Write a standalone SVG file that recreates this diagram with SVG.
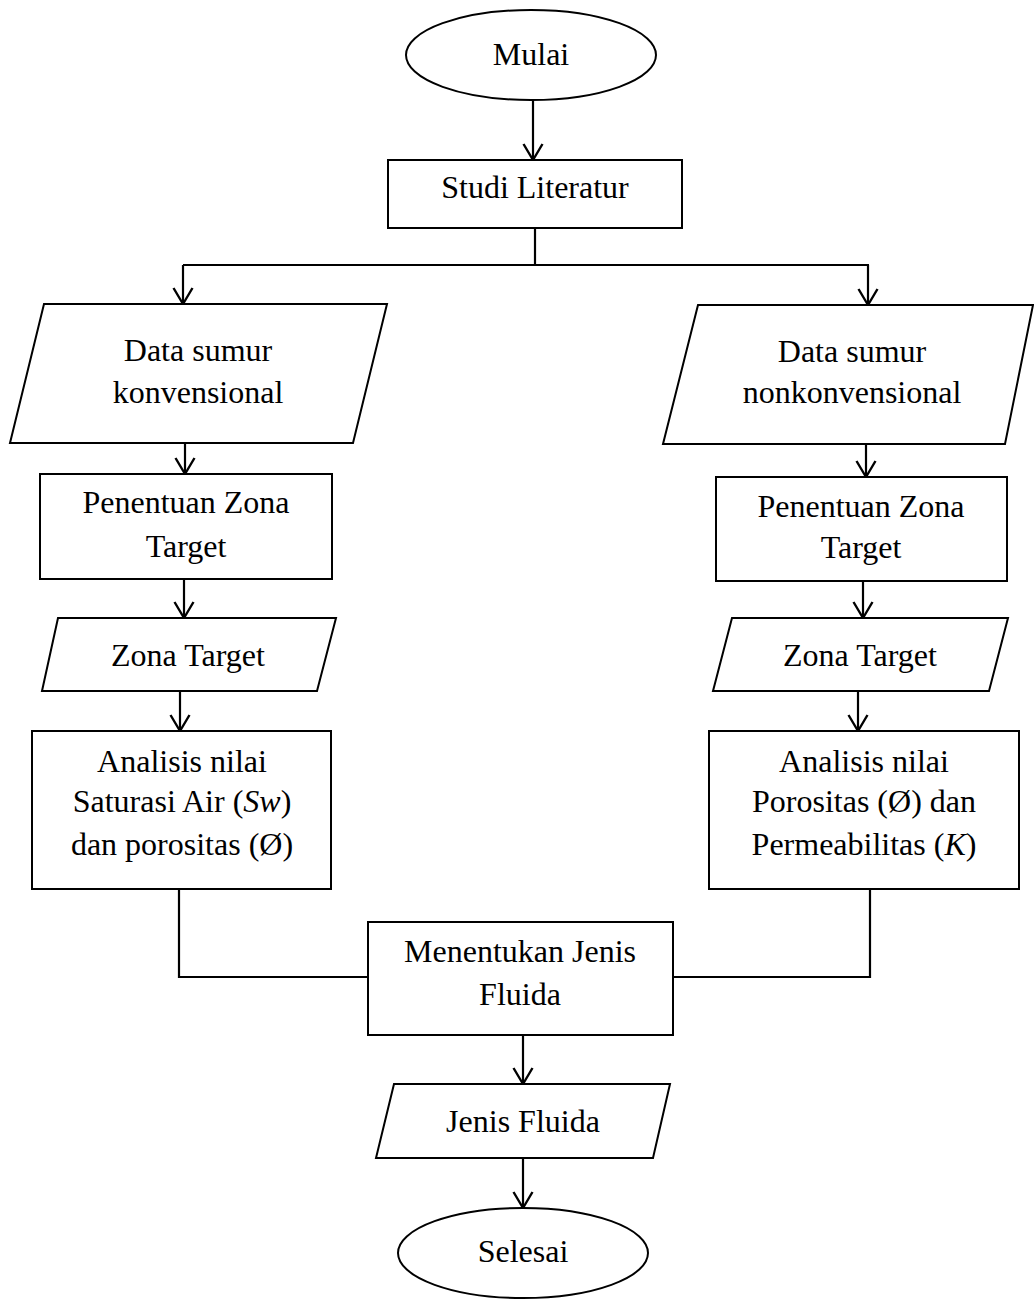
<svg xmlns="http://www.w3.org/2000/svg" width="1034" height="1299" viewBox="0 0 1034 1299">
<style>
.s{fill:#fff;stroke:#000;stroke-width:2}
.t{font-family:"Liberation Serif","Times New Roman",serif;font-size:32px;fill:#000;text-anchor:middle}
.c{fill:none;stroke:#000;stroke-width:2.2}
.i{font-style:italic}
</style>
<defs>
<marker id="arr" markerUnits="userSpaceOnUse" markerWidth="20" markerHeight="22" refX="16" refY="10" orient="auto" viewBox="0 0 20 20" overflow="visible">
<path d="M0,0.5 L16,10 L0,19.5" fill="none" stroke="#000" stroke-width="2.4"/>
</marker>
</defs>
<rect width="1034" height="1299" fill="#fff"/>
<g id="connectors">
<path class="c" d="M533,100 V160" marker-end="url(#arr)"/>
<path class="c" d="M535,228 V265"/>
<path class="c" d="M183,265 H869"/>
<path class="c" d="M183,265 V304" marker-end="url(#arr)"/>
<path class="c" d="M868,265 V305" marker-end="url(#arr)"/>
<path class="c" d="M185,443 V474" marker-end="url(#arr)"/>
<path class="c" d="M184,579 V618" marker-end="url(#arr)"/>
<path class="c" d="M180,691 V731" marker-end="url(#arr)"/>
<path class="c" d="M866,444 V477" marker-end="url(#arr)"/>
<path class="c" d="M863,581 V618" marker-end="url(#arr)"/>
<path class="c" d="M858,691 V731" marker-end="url(#arr)"/>
<path class="c" d="M179,889 V977 H368"/>
<path class="c" d="M870,889 V977 H673"/>
<path class="c" d="M523,1035 V1084" marker-end="url(#arr)"/>
<path class="c" d="M523,1158 V1208" marker-end="url(#arr)"/>
</g>
<g id="mulai">
<ellipse class="s" cx="531" cy="55" rx="125" ry="45"/>
<text class="t" x="531" y="65">Mulai</text>
</g>
<g id="studi">
<rect class="s" x="388" y="160" width="294" height="68"/>
<text class="t" x="535" y="198">Studi Literatur</text>
</g>
<g id="data-konv">
<polygon class="s" points="44,304 387,304 353,443 10,443"/>
<text class="t" x="198" y="361">Data sumur</text>
<text class="t" x="198" y="403">konvensional</text>
</g>
<g id="data-nonkonv">
<polygon class="s" points="698,305 1033,305 1005,444 663,444"/>
<text class="t" x="852" y="362">Data sumur</text>
<text class="t" x="852" y="403">nonkonvensional</text>
</g>
<g id="penentuan-left">
<rect class="s" x="40" y="474" width="292" height="105"/>
<text class="t" x="186" y="513">Penentuan Zona</text>
<text class="t" x="186" y="557">Target</text>
</g>
<g id="penentuan-right">
<rect class="s" x="716" y="477" width="291" height="104"/>
<text class="t" x="861" y="517">Penentuan Zona</text>
<text class="t" x="861" y="558">Target</text>
</g>
<g id="zona-left">
<polygon class="s" points="58,618 336,618 317,691 42,691"/>
<text class="t" x="188" y="666">Zona Target</text>
</g>
<g id="zona-right">
<polygon class="s" points="732,618 1008,618 989,691 713,691"/>
<text class="t" x="860" y="666">Zona Target</text>
</g>
<g id="analisis-left">
<rect class="s" x="32" y="731" width="299" height="158"/>
<text class="t" x="182" y="772">Analisis nilai</text>
<text class="t" x="182" y="812">Saturasi Air (<tspan class="i">Sw</tspan>)</text>
<text class="t" x="182" y="855">dan porositas (Ø)</text>
</g>
<g id="analisis-right">
<rect class="s" x="709" y="731" width="310" height="158"/>
<text class="t" x="864" y="772">Analisis nilai</text>
<text class="t" x="864" y="812">Porositas (Ø) dan</text>
<text class="t" x="864" y="855">Permeabilitas (<tspan class="i">K</tspan>)</text>
</g>
<g id="menentukan">
<rect class="s" x="368" y="922" width="305" height="113"/>
<text class="t" x="520" y="962">Menentukan Jenis</text>
<text class="t" x="520" y="1005">Fluida</text>
</g>
<g id="jenis-fluida">
<polygon class="s" points="394,1084 670,1084 653,1158 376,1158"/>
<text class="t" x="523" y="1132">Jenis Fluida</text>
</g>
<g id="selesai">
<ellipse class="s" cx="523" cy="1253" rx="125" ry="45"/>
<text class="t" x="523" y="1262">Selesai</text>
</g>
</svg>
